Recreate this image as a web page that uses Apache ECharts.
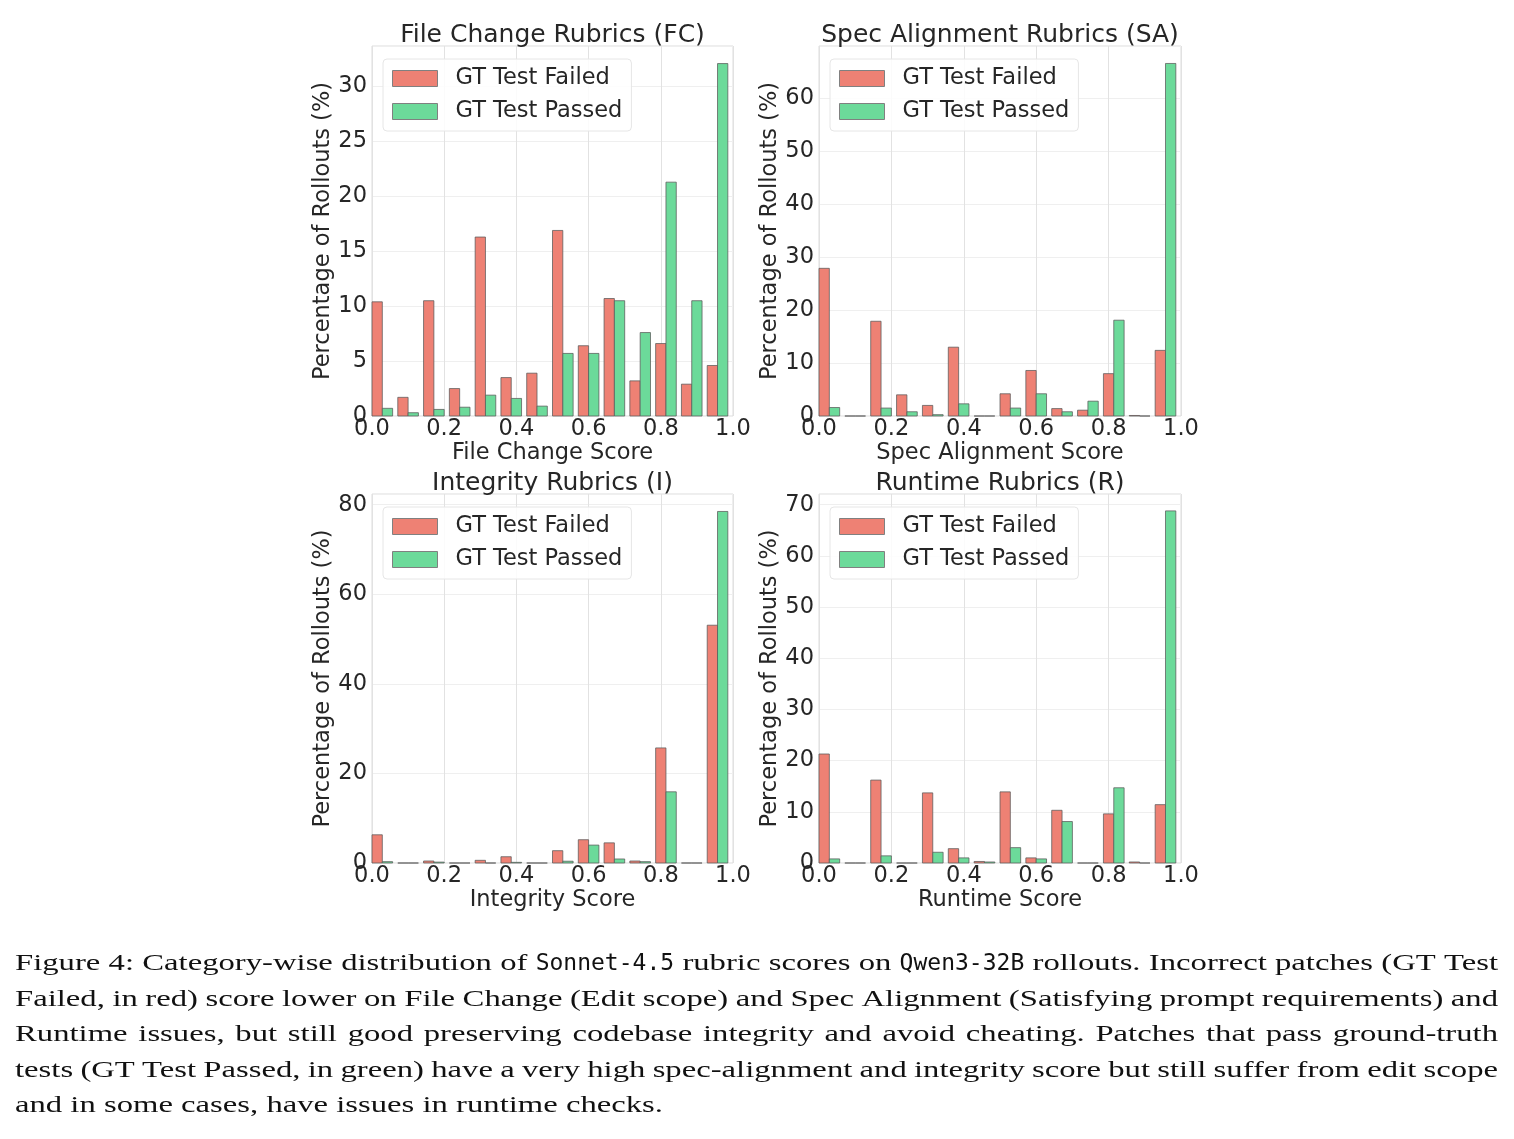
<!DOCTYPE html>
<html>
<head>
<meta charset="utf-8">
<script src="https://cdn.jsdelivr.net/npm/echarts@6/dist/echarts.min.js"></script>
<style>
  html, body { margin: 0; background: #fff; }
  #main { width: 1514px; height: 1139px; }
</style>
</head>
<body>
<div id="main"></div>
<script>
// 14 score bins between 0 and 1 (percent of rollouts)
const BIN_COUNT = 14;
const binStarts = Array.from({ length: BIN_COUNT }, (_, i) => i / BIN_COUNT);

const fcFailed = [10.4, 1.7, 10.5, 2.5, 16.3, 3.5, 3.9, 16.9, 6.4, 10.7, 3.2, 6.6, 2.9, 4.6];
const fcPassed = [0.7, 0.3, 0.6, 0.8, 1.9, 1.6, 0.9, 5.7, 5.7, 10.5, 7.6, 21.3, 10.5, 32.1];
const saFailed = [27.9, 0, 17.9, 4.0, 2.0, 13.0, 0, 4.2, 8.6, 1.4, 1.1, 8.0, 0.1, 12.4];
const saPassed = [1.6, 0, 1.5, 0.8, 0.25, 2.3, 0, 1.5, 4.2, 0.8, 2.8, 18.1, 0, 66.6];
const inFailed = [6.3, 0, 0.45, 0, 0.6, 1.4, 0, 2.75, 5.2, 4.5, 0.45, 25.7, 0, 53.1];
const inPassed = [0.3, 0, 0.2, 0, 0, 0.15, 0, 0.4, 4.0, 0.9, 0.3, 15.9, 0, 78.5];
const rtFailed = [21.3, 0, 16.2, 0, 13.7, 2.8, 0.3, 13.9, 1.0, 10.3, 0, 9.6, 0.2, 11.4];
const rtPassed = [0.8, 0, 1.4, 0, 2.1, 1.0, 0.2, 3.0, 0.8, 8.1, 0, 14.7, 0, 68.8];

const titles = ['File Change Rubrics (FC)', 'Spec Alignment Rubrics (SA)', 'Integrity Rubrics (I)', 'Runtime Rubrics (R)'];
const xNames = ['File Change Score', 'Spec Alignment Score', 'Integrity Score', 'Runtime Score'];
const yName = 'Percentage of Rollouts (%)';
const legendNames = ['GT Test Failed', 'GT Test Passed'];
const failedSets = [fcFailed, saFailed, inFailed, rtFailed];
const passedSets = [fcPassed, saPassed, inPassed, rtPassed];
const yMaxes = [33.7, 69.9, 82.4, 72.1];
const ySteps = [5, 10, 20, 10];

const captionLines = [
  'Figure 4: Category-wise distribution of `Sonnet-4.5` rubric scores on `Qwen3-32B` rollouts. Incorrect patches (GT Test',
  'Failed, in red) score lower on File Change (Edit scope) and Spec Alignment (Satisfying prompt requirements) and',
  'Runtime issues, but still good preserving codebase integrity and avoid cheating. Patches that pass ground-truth',
  'tests (GT Test Passed, in green) have a very high spec-alignment and integrity score but still suffer from edit scope',
  'and in some cases, have issues in runtime checks.'
];

// layout
const FONT = 'DejaVu Sans';
const TEXT = '#262626';
const RED = '#ee8174';
const GREEN = '#6cda9a';
const EDGE = 'rgba(90,90,90,0.75)';
const boxes = [
  { left: 372, top: 46, width: 361, height: 370 },
  { left: 819, top: 46, width: 362, height: 370 },
  { left: 372, top: 494, width: 361, height: 369 },
  { left: 819, top: 494, width: 362, height: 369 }
];

function barRenderer(offset) {
  const w = 1 / BIN_COUNT;
  return function (params, api) {
    const x0 = api.value(0) + offset * w;
    const p0 = api.coord([x0, api.value(1)]);
    const p1 = api.coord([x0 + 0.4 * w, 0]);
    return {
      type: 'rect',
      shape: { x: p0[0], y: p0[1], width: p1[0] - p0[0], height: p1[1] - p0[1] },
      style: { fill: api.visual('color'), stroke: EDGE, lineWidth: 1 }
    };
  };
}

const grid = [], xAxis = [], yAxis = [], series = [], legend = [], title = [];
boxes.forEach(function (b, i) {
  grid.push({ left: b.left, top: b.top, width: b.width, height: b.height, show: true, borderColor: '#dcdcdc', borderWidth: 1 });
  title.push({
    text: titles[i], left: b.left + b.width / 2, top: b.top - 23, textAlign: 'center', padding: 0,
    textStyle: { fontFamily: FONT, fontSize: 25, fontWeight: 'normal', color: TEXT }
  });
  xAxis.push({
    gridIndex: i, type: 'value', min: 0, max: 1, interval: 0.2,
    name: xNames[i], nameLocation: 'middle', nameGap: 26,
    nameTextStyle: { fontFamily: FONT, fontSize: 22.5, color: TEXT },
    axisLine: { show: false }, axisTick: { show: false },
    axisLabel: { fontFamily: FONT, fontSize: 22.5, color: TEXT, margin: 2, formatter: v => v.toFixed(1) },
    splitLine: { show: true, lineStyle: { color: '#e2e2e2' } }
  });
  const step = ySteps[i];
  yAxis.push({
    gridIndex: i, type: 'value', min: 0, max: yMaxes[i], interval: step,
    name: yName, nameLocation: 'middle', nameGap: 33,
    nameTextStyle: { fontFamily: FONT, fontSize: 22.5, color: TEXT },
    axisLine: { show: false }, axisTick: { show: false },
    axisLabel: {
      fontFamily: FONT, fontSize: 22.5, color: TEXT, margin: 5,
      formatter: v => (Math.abs(v / step - Math.round(v / step)) < 1e-6 ? String(v) : '')
    },
    splitLine: { show: true, lineStyle: { color: '#efefef' } }
  });
  series.push({
    type: 'custom', name: legendNames[0], xAxisIndex: i, yAxisIndex: i,
    itemStyle: { color: RED }, renderItem: barRenderer(0),
    data: binStarts.map((s, k) => [s, failedSets[i][k]])
  });
  series.push({
    type: 'custom', name: legendNames[1], xAxisIndex: i, yAxisIndex: i,
    itemStyle: { color: GREEN }, renderItem: barRenderer(0.4),
    data: binStarts.map((s, k) => [s, passedSets[i][k]])
  });
  legend.push({
    left: b.left + 11, top: b.top + 13, orient: 'vertical', selectedMode: false,
    itemWidth: 45, itemHeight: 16, itemGap: 10, padding: [8, 9, 8, 9],
    backgroundColor: 'rgba(255,255,255,0.85)', borderColor: '#e6e6e6', borderWidth: 1, borderRadius: 4,
    itemStyle: { borderColor: '#808080', borderWidth: 1 },
    textStyle: { fontFamily: FONT, fontSize: 22.5, color: TEXT, padding: [0, 0, 0, 13] },
    data: legendNames.map(n => ({ name: n, icon: 'rect' }))
  });
});

// caption: justified words, serif text stretched to the paper's width
const SERIF = '24px "Liberation Serif"';
const MONO = '23px "DejaVu Sans Mono"';
const capLeft = 15, capRight = 1498, lastLineEnd = 663;
const baselines = [972, 1007.5, 1043, 1078.5, 1114];
const ctx = document.createElement('canvas').getContext('2d');
function parseLine(line) {
  return line.split(' ').filter(w => w.length).map(function (w) {
    const mono = w.startsWith('`');
    return { text: mono ? w.replace(/`/g, '') : w, mono: mono };
  });
}
function rawWidth(word) {
  ctx.font = word.mono ? MONO : SERIF;
  return ctx.measureText(word.text).width;
}
ctx.font = SERIF;
const spaceW = ctx.measureText(' ').width;
const last = parseLine(captionLines[captionLines.length - 1]);
const lastRaw = last.reduce((a, w) => a + rawWidth(w), 0) + spaceW * (last.length - 1);
const sx = (lastLineEnd - capLeft) / lastRaw;

const graphic = [];
captionLines.forEach(function (line, li) {
  const words = parseLine(line);
  const widths = words.map(w => rawWidth(w) * (w.mono ? 1 : sx));
  const total = widths.reduce((a, b) => a + b, 0);
  const isLast = li === captionLines.length - 1;
  const gap = isLast ? spaceW * sx : (capRight - capLeft - total) / (words.length - 1);
  let x = capLeft;
  words.forEach(function (w, k) {
    graphic.push({
      type: 'text', x: x, y: baselines[li] - 8, scaleX: w.mono ? 1 : sx, silent: true,
      style: { text: w.text, font: w.mono ? MONO : SERIF, fill: '#111', verticalAlign: 'middle' }
    });
    x += widths[k] + gap;
  });
});

const chart = echarts.init(document.getElementById('main'));
chart.setOption({
  backgroundColor: '#fff',
  animation: false,
  title: title,
  grid: grid,
  xAxis: xAxis,
  yAxis: yAxis,
  legend: legend,
  series: series,
  graphic: graphic
});
</script>
</body>
</html>
